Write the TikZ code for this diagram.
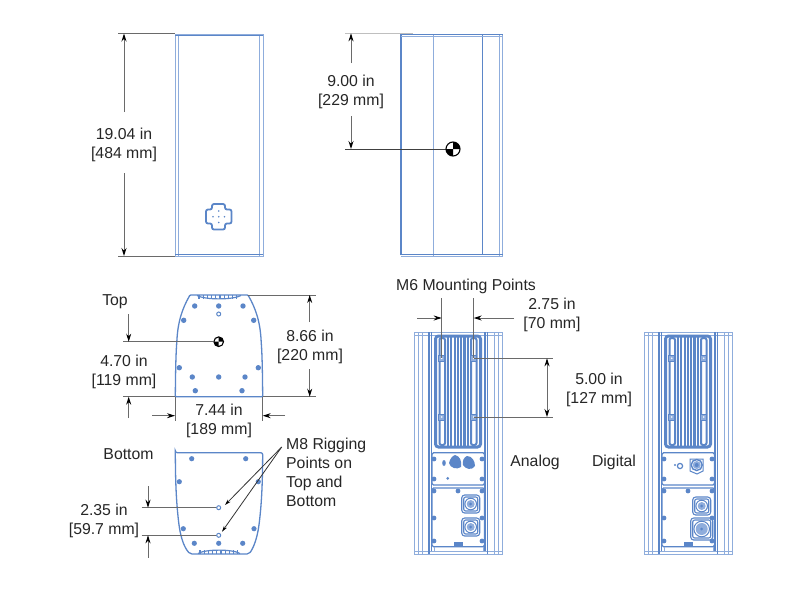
\documentclass[tikz,border=0pt]{standalone}
\usepackage{fontspec}
\setmainfont{Liberation Sans}
\usetikzlibrary{arrows.meta}
\definecolor{bl}{HTML}{5B86C8}
\definecolor{lb}{HTML}{8FADDC}
\definecolor{dimc}{HTML}{6A6A6A}
\tikzset{
  body/.style={draw=bl,line width=1.3pt},
  thin body/.style={draw=lb,line width=1pt},
  ext/.style={draw=dimc,line width=.9pt},
  dimarrow/.style={draw=dimc,line width=.9pt,-{Stealth[length=8pt,width=5pt,black]}},
  dimboth/.style={draw=dimc,line width=.9pt,{Stealth[length=8pt,width=5pt,black]}-{Stealth[length=8pt,width=5pt,black]}},
  lead/.style={draw=black!80,line width=.8pt,-{Stealth[length=6pt,width=3.5pt,black]}},
  lab/.style={font=\fontsize{15.8}{19}\selectfont,text=black!85,align=center,inner sep=0pt,yshift=-1.2pt},
  hole/.style={circle,fill=bl,draw=none,inner sep=0pt,minimum size=#1},
  ring/.style={circle,draw=bl,fill=white,line width=1pt,inner sep=0pt,minimum size=#1},
}
% centre-of-gravity mark
\newcommand{\cgmark}[3]{%
  \fill[white] (#1,#2) circle (#3);
  \fill[black] (#1,#2) -- ++(#3,0) arc (0:-90:#3) -- cycle;
  \fill[black] (#1,#2) -- ++(-#3,0) arc (180:90:#3) -- cycle;
  \draw[black,line width=1.1pt] (#1,#2) circle (#3);
}
\newcommand{\grille}[3]{% x-start, y-start, y-end
  \foreach \i in {0,...,9}{\draw[bl,line width=1.1pt] ({#1+\i*4.2},#2) -- ({#1+\i*4.2},#3);}
}
% rear view common to Analog and Digital
\newcommand{\rearview}{%
  \draw[thin body] (414,332) rectangle (502,554);
  \draw[thin body] (418,332) -- (418,554) (422,332) -- (422,554) (498,332) -- (498,554) (494,332) -- (494,554);
  \draw[thin body] (414,335) -- (502,335) (414,551) -- (502,551);
  \draw[body] (429,332) -- (429,554) (431.5,332) -- (431.5,551) (485,332) -- (485,551) (487.5,332) -- (487.5,554);
  % heat sink
  \draw[bl,line width=3pt,rounded corners=3pt] (435.5,336) rectangle (480.5,447);
  \draw[bl,line width=2pt,rounded corners=2pt] (439.5,338) rectangle (445,445);
  \draw[bl,line width=2pt,rounded corners=2pt] (471,338) rectangle (476.5,445);
  \foreach \x in {448,451.3,...,469}{\draw[bl,line width=2.1pt] (\x,335) -- (\x,448);}
  \foreach \x/\y in {441.7/358.3,473.7/358.3,441.7/417,473.7/417}{
    \draw[bl,fill=lb,line width=1pt] (\x-3,\y-3) rectangle (\x+3,\y+3);
    \fill[white] (\x,\y) circle (.9);
  }
  % panels
  \draw[bl,line width=1.3pt,rounded corners=1.5pt] (432,452.7) rectangle (484.5,485);
  \draw[bl,line width=1.3pt,rounded corners=1.5pt] (432,488) rectangle (484.5,546.7);
  \foreach \x/\y in {434/459,482/459,434/479,482/479,434/491,458/491,482/491,434/518,482/518,434/541,482/541}{
    \fill[bl] (\x,\y) circle (2.4);
  }
  \draw[thin body] (434,546.7) -- (434,551) (483,546.7) -- (483,551);
  \fill[bl] (454,541.5) rectangle (463,547);
}
\newcommand{\conn}[3]{% x,y,half size
  \draw[bl,line width=1.1pt,rounded corners=3pt] (#1-#3,#2-#3) rectangle (#1+#3,#2+#3);
  \draw[bl,line width=1.1pt,rounded corners=2pt] (#1-#3+2,#2-#3+2) rectangle (#1+#3-2,#2+#3-2);
  \draw[bl,line width=1pt] (#1,#2) circle (#3-3.2);
  \fill[lb] (#1,#2) circle (#3-5);
  \fill[bl] (#1,#2) circle (1.5);
}
\begin{document}
\begin{tikzpicture}[x=1pt,y=-1pt]
\useasboundingbox (0,0) rectangle (800,600);
\fill[white] (0,0) rectangle (800,600);

%% ---------- front view
\draw[thin body] (175,34.5) rectangle (263,256);
\draw[thin body] (178.5,34.5) -- (178.5,256) (259.5,34.5) -- (259.5,256);
\draw[body,line width=1.8pt] (175,35.5) -- (263,35.5) (175,254.5) -- (263,254.5);
\draw[bl,line width=1.8pt,rounded corners=2pt]
  (212,204) -- (225,204) -- (225,209.5) -- (231.5,209.5) -- (231.5,223.5) -- (225,223.5) -- (225,229.5) -- (212,229.5) -- (212,223.5) -- (206,223.5) -- (206,209.5) -- (212,209.5) -- cycle;
\foreach \x/\y in {218.7/211,218.7/216.7,218.7/222.5,213/216.7,224.5/216.7}{\fill[bl] (\x,\y) circle (.9);}
\coordinate (f1) at (118,33.5); \coordinate (f2) at (175,33.5);
\coordinate (f3) at (118,256); \coordinate (f4) at (175,256);
\draw[ext] (f1) -- (f2) (f3) -- (f4);
\node[lab] (d1904) at (124,143.5) {19.04 in\\{[}484 mm{]}};
\draw[dimarrow] (124,112) -- (124,33.5);
\draw[dimarrow] (124,173) -- (124,256);

%% ---------- side view
\draw[body,line width=1.4pt] (401,34) -- (401,255) (482.7,34) -- (482.7,255);
\draw[thin body] (433.7,34) -- (433.7,256) (499,34) -- (499,256) (502.7,34) -- (502.7,256);
\draw[body] (401,34.5) -- (502.7,34.5) (401,254.5) -- (502.7,254.5);
\draw[thin body] (401,36.5) -- (502.7,36.5) (401,256.3) -- (502.7,256.3);
\coordinate (s1) at (345,33.3); \coordinate (s2) at (413,33.3); \coordinate (s3) at (345,149);
\draw[draw=lightgray,line width=1pt] (s1) -- (s2);
\draw[draw=black!75,line width=.9pt] (s3) -- (447,149);
\cgmark{453}{149}{7}
\node[lab] (d900) at (351,91) {9.00 in\\{[}229 mm{]}};
\draw[dimarrow] (351,63) -- (351,33.3);
\draw[dimarrow] (351,116) -- (351,149);

%% ---------- top view
\draw[body,rounded corners=.8pt] (175.3,396.7)
  .. controls (175.5,375) and (175.8,355) .. (176.8,342)
  .. controls (177.8,322) and (182,309) .. (190,295)
  -- (248,295)
  .. controls (256,309) and (260.2,322) .. (261.2,342)
  .. controls (262.2,355) and (262.5,375) .. (262.7,396.7) -- cycle;
\draw[bl,line width=1.2pt] (197,295.5) .. controls (205,300) and (233,300) .. (241,295.5);
\grille{199}{295}{299}
\foreach \x/\y in {194.7/306,218.7/306,243/306,183.7/320.3,253.7/320.3,179.3/367.7,258.3/367.7,192.3/377,218.7/377,245/377,195.3/390.7,242/390.7}{
  \node[hole=5.4pt] at (\x,\y) {};
}
\node[ring=4pt] at (218.7,314) {};
\coordinate (t1) at (123,341.7); \coordinate (t2) at (123,396.7);
\draw[ext] (t1) -- (213,341.7);
\draw[ext] (t2) -- (175,396.7);
\cgmark{218.7}{341.7}{4.8}
\node[lab] (top) at (115,300.5) {Top};
\node[lab] (d470) at (124,370.5) {4.70 in\\{[}119 mm{]}};
\draw[dimarrow] (128.7,314) -- (128.7,341.7);
\draw[dimarrow] (128.7,418) -- (128.7,396.7);
\draw[ext] (248,295) -- (316,295) (262.7,396.7) -- (316,396.7);
\node[lab] (d866) at (310,345.5) {8.66 in\\{[}220 mm{]}};
\draw[dimarrow] (309.7,322) -- (309.7,295);
\draw[dimarrow] (309.7,369) -- (309.7,396.7);
\draw[ext] (175,396.7) -- (175,421) (262.7,396.7) -- (262.7,421);
\node[lab] (d744) at (219,420) {7.44 in\\{[}189 mm{]}};
\draw[dimarrow] (152,415.7) -- (175,415.7);
\draw[dimarrow] (285,415.7) -- (262.7,415.7);

%% ---------- bottom view
\draw[body,rounded corners=2pt] (175.3,452.7) -- (262.7,452.7)
  .. controls (262.5,480) and (262,500) .. (259,525)
  .. controls (257,538) and (254,547) .. (249,554)
  -- (190,554)
  .. controls (184,547) and (181,538) .. (179,525)
  .. controls (176,500) and (175.5,480) .. (175.3,452.7) -- cycle;
\draw[bl,line width=1.2pt] (198,553.5) .. controls (205,549) and (233,549) .. (240,553.5);
\grille{200}{550}{554}
\foreach \x/\y in {191.7/458.7,245.7/458.7,179.3/481.7,258.3/481.7,183.3/528.7,254/528.7,194.3/543.3,218.7/543.3,242.7/543.3}{
  \node[hole=5.2pt] at (\x,\y) {};
}
\draw[ext] (141.7,507.7) -- (216.7,507.7) (141.7,535.3) -- (216.7,535.3);
\node[ring=4pt] (r1) at (218.7,507.7) {};
\node[ring=4pt] (r2) at (218.7,535.3) {};
\node[lab] (bottom) at (128.5,452.5) {Bottom};
\node[lab] (d235) at (104,519.5) {2.35 in\\{[}59.7 mm{]}};
\draw[dimarrow] (148,486) -- (148,507.7);
\draw[dimarrow] (148,557.7) -- (148,535.3);
\node[lab,align=left,anchor=north west] (m8) at (286,437) {M8 Rigging\\Points on\\Top and\\Bottom};
\coordinate (m8a) at (281.7,447);
\draw[lead] (m8a) -- (225,505);
\draw[lead] (m8a) -- (222,531.7);

%% ---------- rear views
\rearview
\begin{scope}[xshift=230pt]
\rearview
\end{scope}

% analog connectors
\fill[bl] (455,455) .. controls (460,456) and (462,461) .. (461,467) .. controls (457,470) and (450,468) .. (449,463) .. controls (450,459) and (452,456) .. (455,455) -- cycle;
\fill[bl] (467,456) .. controls (472,456) and (475,461) .. (475,466) .. controls (472,471) and (465,469) .. (463,465) .. controls (462,461) and (464,457) .. (467,456) -- cycle;
\fill[bl] (444,463) ellipse (1.8 and 3);
\fill[bl] (447.7,478.3) circle (1.5);
\conn{470.7}{504}{9}
\conn{470.7}{527}{9}

% digital connectors
\draw[bl,line width=1.4pt] (696.7,465) circle (5.5);
\fill[lb] (696.7,465) circle (4);
\fill[bl] (696.7,465) circle (2);
\draw[bl,line width=1pt] (690,459) -- (703,459) -- (703,471) -- (697,474) -- (690,471) -- cycle;
\draw[bl,line width=1.2pt] (680,466) circle (2.6);
\fill[bl] (675,465) circle (1.2);
\conn{701.7}{506}{9}
\conn{701.7}{529}{11}

%% ---------- rear dimensions
\node[lab] (m6) at (466,285) {M6 Mounting Points};
\draw[ext] (441.7,298) -- (441.7,358) (473.7,298) -- (473.7,358);
\draw[dimarrow] (417,318) -- (441.7,318);
\draw[dimarrow] (514,318) -- (473.7,318);
\node[lab] (d275) at (552,314) {2.75 in\\{[}70 mm{]}};
\draw[ext] (473.7,358.3) -- (553,358.3) (473.7,417) -- (553,417);
\draw[dimboth] (547,358.3) -- (547,417);
\node[lab] (d500) at (599,388.5) {5.00 in\\{[}127 mm{]}};
\node[lab] (analog) at (535,461) {Analog};
\node[lab] (digital) at (614,461) {Digital};
\end{tikzpicture}
\end{document}
